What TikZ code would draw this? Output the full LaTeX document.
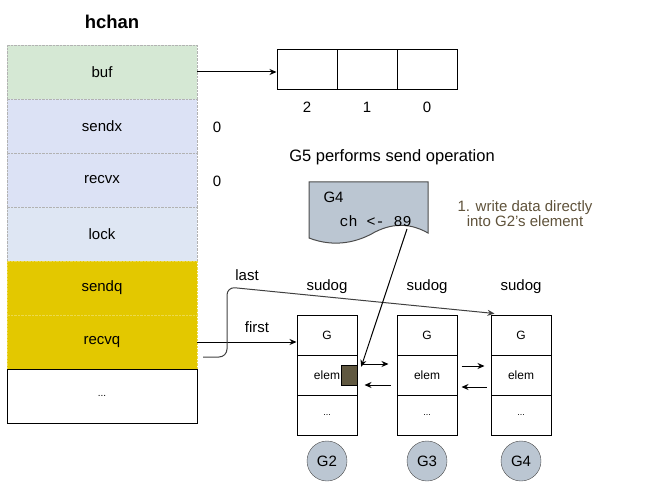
\documentclass[tikz,border=0pt]{standalone}
\usepackage{fontspec}
\setmainfont{Liberation Sans}
\setmonofont{Liberation Mono}
\usepackage{tikz}
\usetikzlibrary{arrows.meta, positioning, calc}
\definecolor{bufcolor}{RGB}{213, 232, 212}
\definecolor{idxcolor}{RGB}{220, 226, 245}
\definecolor{lockcolor}{RGB}{222, 230, 243}
\definecolor{queuecolor}{RGB}{227, 200, 0}
\definecolor{gcolor}{RGB}{187, 198, 210}
\definecolor{datacolor}{RGB}{96, 88, 64}
\definecolor{notecolor}{RGB}{95, 82, 58}

\begin{document}
\begin{tikzpicture}[x=1pt, y=-1pt,
    field/.style={draw=gray!60, densely dotted, minimum width=190pt, minimum height=54pt, inner sep=0pt, font=\fontsize{15}{18}\selectfont},
    slot/.style={draw, line width=1pt, minimum width=60pt, minimum height=40pt, inner sep=0pt},
    cell/.style={draw, line width=1pt, minimum width=60pt, minimum height=40pt, inner sep=0pt, font=\fontsize{12}{14}\selectfont},
    gnode/.style={circle, draw=black!70, fill=gcolor, minimum size=40pt, inner sep=0pt, font=\fontsize{15}{18}\selectfont},
    label/.style={font=\fontsize{15}{18}\selectfont},
    link/.style={-{Stealth[length=7pt,width=6pt]}, line width=1pt}]
    \useasboundingbox (0,0) rectangle (669,489);

    % hchan struct
    \node[font=\fontsize{18.5}{22}\selectfont\bfseries] (title) at (112, 22) {hchan};
    \node[field, fill=bufcolor] (buf) at (102, 72) {buf};
    \node[field, fill=idxcolor] (sendx) at (102, 126) {sendx};
    \node[field, fill=idxcolor] (recvx) at (102, 180) {recvx};
    \node[field, fill=lockcolor] (lock) at (102, 234) {lock};
    \node[field, draw=queuecolor!70!white, fill=queuecolor] (sendq) at (102, 288) {sendq};
    \node[field, draw=queuecolor!70!white, fill=queuecolor] (recvq) at (102, 342) {recvq};
    \node[field, draw=black, solid, line width=1pt, fill=white, font=\fontsize{10}{12}\selectfont] (rest) at (102, 396) {...};
    \node[label] (sendxval) at (217, 127) {0};
    \node[label] (recvxval) at (217, 181) {0};

    % ring buffer
    \node[slot] (slot2) at (307, 70) {};
    \node[slot] (slot1) at (367, 70) {};
    \node[slot] (slot0) at (427, 70) {};
    \node[label] (idx2) at (307, 107) {2};
    \node[label] (idx1) at (367, 107) {1};
    \node[label] (idx0) at (427, 107) {0};
    \draw[link] (buf.east) -- (buf.east -| slot2.west);

    % sender G5
    \node[font=\fontsize{16.5}{20}\selectfont] (caption) at (392, 157) {G5 performs send operation};
    \draw[draw=black!70, fill=gcolor, line width=1pt] (309,182) -- (428,182) -- (428,233)
        .. controls (412,224) and (395,222) .. (375,232)
        .. controls (358,242) and (335,248) .. (309,238) -- cycle;
    \node[label, anchor=west] (g4name) at (320, 197) {G4};
    \node[font=\ttfamily\fontsize{15}{18}\selectfont, anchor=west] (sendop) at (336, 221) {ch <- 89};
    \coordinate (sendout) at (407, 229);
    \node[font=\fontsize{15}{18}\selectfont, text=notecolor, align=center] (note) at (525, 214) {1. write data directly\\[-3pt]into G2's element};

    % sudog queue
    \node[label] (sudog2) at (327, 287) {sudog};
    \node[label] (sudog3) at (427, 287) {sudog};
    \node[label] (sudog4) at (521, 287) {sudog};
    \node[cell] (g2g) at (327, 335) {G};
    \node[cell] (g2elem) at (327, 375) {elem};
    \node[cell, font=\fontsize{9}{11}\selectfont] (g2rest) at (327, 415) {...};
    \node[cell] (g3g) at (427, 335) {G};
    \node[cell] (g3elem) at (427, 375) {elem};
    \node[cell, font=\fontsize{9}{11}\selectfont] (g3rest) at (427, 415) {...};
    \node[cell] (g4g) at (521, 335) {G};
    \node[cell] (g4elem) at (521, 375) {elem};
    \node[cell, font=\fontsize{9}{11}\selectfont] (g4rest) at (521, 415) {...};
    \node[draw, fill=datacolor, minimum width=16pt, minimum height=20pt, inner sep=0pt] (data) at (349, 375) {};
    \node[gnode] (g2) at (327, 461) {G2};
    \node[gnode] (g3) at (427, 461) {G3};
    \node[gnode] (g4) at (521, 461) {G4};

    % Links between sudogs
    \draw[link] ([xshift=5pt, yshift=11pt]g2elem.east) -- ([xshift=-8pt, yshift=11pt]g3elem.west);
    \draw[link] ([xshift=-6pt, yshift=-10pt]g3elem.west) -- ([xshift=7pt, yshift=-10pt]g2elem.east);
    \draw[link] ([xshift=4pt, yshift=9pt]g3elem.east) -- ([xshift=-6pt, yshift=9pt]g4elem.west);
    \draw[link] ([xshift=-4pt, yshift=-12pt]g4elem.west) -- ([xshift=4pt, yshift=-12pt]g3elem.east);

    % first / last pointers
    \draw[link] (recvq.east) -- (recvq.east -| g2g.west);
    \node[label] (firstlbl) at (257, 327) {first};
    \coordinate (lastbend) at (227, 287);
    \draw[link, draw=black!75, rounded corners=8pt] ([xshift=6pt, yshift=-15pt]recvq.east) -| (lastbend) -- ([xshift=4pt, yshift=1pt]g4g.north west);
    \node[label] (lastlbl) at (247, 275) {last};

    % direct write
    \draw[link] (sendout) -- ([xshift=4pt, yshift=-2pt]data.north east);
\end{tikzpicture}
\end{document}
